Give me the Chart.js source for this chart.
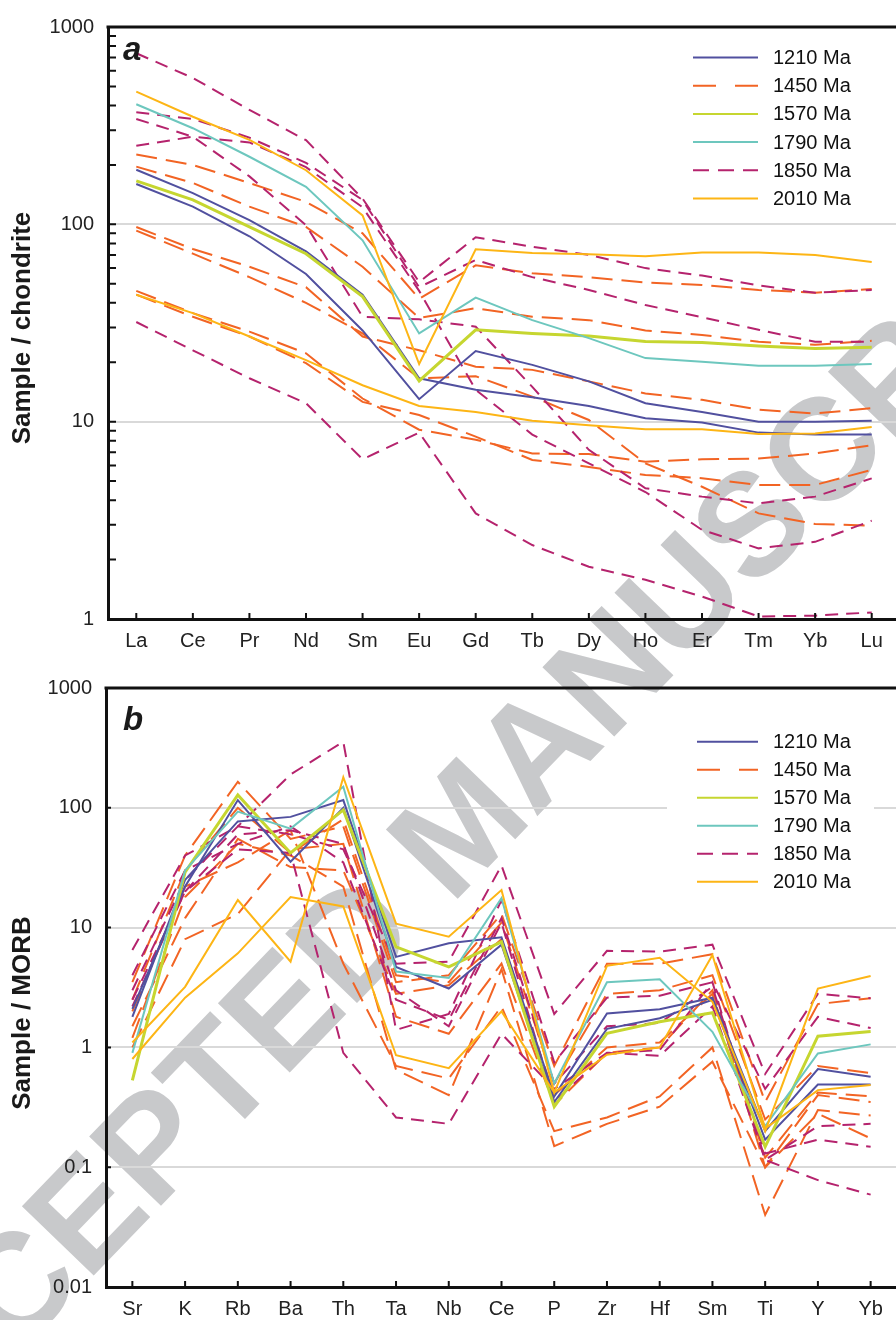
<!DOCTYPE html>
<html>
<head>
<meta charset="utf-8">
<title>REE and trace element patterns</title>
<script src="https://cdn.jsdelivr.net/npm/chart.js@4.4.1/dist/chart.umd.min.js"></script>
<style>
    html, body { margin: 0; padding: 0; background: #fff; overflow: hidden; }
    #page { position: relative; width: 896px; height: 1320px; overflow: hidden; }
    #stamp {
        position: absolute; left: 460px; top: 825px;
        transform: translate(-50%, -50%) rotate(-46deg);
        font: bold 145px "Liberation Sans", Arial, sans-serif;
        color: #c8c9cb; white-space: nowrap;
    }
    canvas { position: absolute; left: 0; }
    #reeChart { top: 0; }
    #spiderChart { top: 660px; }
</style>
</head>
<body>
<div id="page">
    <div id="stamp">ACCEPTED MANUSCRIPT</div>
    <canvas id="reeChart" width="910" height="660"></canvas>
    <canvas id="spiderChart" width="910" height="660"></canvas>
</div>
<script>
const reeElements = ['La', 'Ce', 'Pr', 'Nd', 'Sm', 'Eu', 'Gd', 'Tb', 'Dy', 'Ho', 'Er', 'Tm', 'Yb', 'Lu'];
const spiderElements = ['Sr', 'K', 'Rb', 'Ba', 'Th', 'Ta', 'Nb', 'Ce', 'P', 'Zr', 'Hf', 'Sm', 'Ti', 'Y', 'Yb'];
const chondriteTicks = ['1', '10', '100', '1000'];
const morbTicks = ['0.01', '0.1', '1', '10', '100', '1000'];
const ageGroups = ['1210 Ma', '1450 Ma', '1570 Ma', '1790 Ma', '1850 Ma', '2010 Ma'];

// chondrite-normalised REE
const ree1210a = [160, 123, 87, 56, 29, 13, 22.8, 19.4, 16, 12.4, 11.2, 10, 10, 10.1];
const ree1210b = [189, 144, 105, 73, 44, 16.6, 14.5, 13.3, 12, 10.4, 9.9, 8.8, 8.6, 8.6];
const ree1450a = [226, 200, 162, 130, 90, 42, 62, 56.5, 54, 50.7, 49.3, 46.5, 45, 47];
const ree1450b = [196, 162, 123, 97, 61, 33.5, 37.6, 34, 32.7, 29, 27.5, 25.4, 24.5, 25.7];
const ree1450c = [97, 75, 61, 48, 27, 23, 19, 18.3, 16, 13.9, 12.9, 11.5, 11, 11.7];
const ree1450d = [93, 71, 54, 40, 28, 16.6, 17, 13.4, 10.2, 6.15, 4.68, 3.43, 3.03, 2.97];
const ree1450e = [46, 35.5, 28.6, 22.2, 13.1, 9.1, 8.1, 6.9, 6.85, 6.27, 6.45, 6.5, 6.9, 7.6];
const ree1450f = [44, 34, 27, 19.8, 12.6, 10.8, 8.4, 6.4, 5.9, 5.37, 5.17, 4.78, 4.78, 5.7];
const ree1570 = [166, 133, 97, 71, 43, 16.1, 29.2, 28, 27.2, 25.5, 25.2, 24.2, 23.5, 23.8];
const ree1790 = [406, 307, 220, 155, 83, 28, 42.5, 32.7, 26.5, 21, 20.1, 19.2, 19.2, 19.6];
const ree1850a = [736, 552, 380, 267, 135, 51, 86, 77, 70, 60, 55, 49, 45, 46.5];
const ree1850b = [370, 342, 275, 205, 133, 48, 66, 54, 46.5, 39, 33.8, 29.2, 25.4, 25.4];
const ree1850c = [250, 278, 260, 195, 122, 46, 14.5, 8.6, 6.15, 4.4, 2.83, 2.28, 2.46, 3.15];
const ree1850d = [342, 278, 175, 99, 34, 33, 30.3, 15, 7.2, 4.6, 4.17, 3.86, 4.17, 5.16];
const ree1850e = [32, 23, 16.6, 12.4, 6.45, 8.8, 3.43, 2.37, 1.84, 1.58, 1.3, 1.03, 1.04, 1.08];
const ree2010a = [470, 351, 268, 188, 111, 19.6, 74.8, 71.5, 70.6, 69, 72, 72, 70, 64.5];
const ree2010b = [44, 35.5, 27, 20.5, 15.3, 12, 11.2, 10.1, 9.6, 9.15, 9.15, 8.66, 8.7, 9.4];

// MORB-normalised trace elements
const tr1210a = [2.1, 22, 116, 35.5, 100, 4.7, 3.1, 7.2, 0.35, 1.43, 1.75, 2.5, 0.17, 0.49, 0.49];
const tr1210b = [1.8, 25, 77, 84, 116, 5.7, 7.4, 8.3, 0.39, 1.92, 2.08, 2.6, 0.2, 0.66, 0.57];
const tr1450a = [3.5, 40, 165, 55, 70, 3.5, 4, 13, 0.7, 5, 5, 6, 0.35, 2.3, 2.57];
const tr1450b = [2.5, 30, 100, 42, 80, 4, 3.5, 11, 0.5, 2.8, 3, 4, 0.25, 0.7, 0.61];
const tr1450c = [1.5, 12, 55, 32, 30, 2.8, 3.3, 8, 0.4, 1.0, 1.1, 2.8, 0.12, 0.42, 0.39];
const tr1450d = [1.0, 8, 13, 45, 50, 1.8, 1.3, 5, 0.33, 0.9, 1.0, 3, 0.1, 0.4, 0.35];
const tr1450e = [2.0, 22, 35, 65, 5, 0.7, 0.55, 2.2, 0.2, 0.26, 0.39, 1.0, 0.04, 0.3, 0.27];
const tr1450f = [1.2, 18, 50, 40, 22, 0.65, 0.4, 4.5, 0.15, 0.23, 0.32, 0.76, 0.1, 0.28, 0.174];
const tr1570 = [0.53, 29, 128, 42, 96, 6.9, 4.7, 7.6, 0.32, 1.31, 1.64, 1.95, 0.148, 1.24, 1.36];
const tr1790 = [0.9, 30, 93, 67, 150, 4.3, 3.8, 17.6, 0.5, 3.5, 3.7, 1.35, 0.22, 0.89, 1.06];
const tr1850a = [6.5, 40, 70, 60, 45, 5, 5.2, 33, 1.9, 6.4, 6.3, 7.2, 0.6, 2.8, 2.57];
const tr1850b = [3, 25, 70, 190, 356, 1.4, 1.9, 17, 0.75, 2.6, 2.7, 3.5, 0.45, 1.8, 1.45];
const tr1850c = [2.2, 20, 60, 65, 50, 3, 1.5, 11, 0.35, 0.9, 0.85, 2.2, 0.115, 0.22, 0.23];
const tr1850d = [4, 30, 50, 70, 35, 2.5, 1.7, 12, 0.5, 1.5, 1.6, 3.2, 0.13, 0.17, 0.148];
const tr1850e = [2.5, 20, 45, 42, 0.9, 0.26, 0.23, 1.3, 0.45, 0.9, 0.95, 3.5, 0.115, 0.078, 0.059];
const tr2010a = [1.1, 3.2, 17, 5.2, 180, 10.8, 8.4, 20.6, 0.42, 4.8, 5.6, 2.4, 0.2, 3.1, 3.95];
const tr2010b = [0.8, 2.6, 6.1, 18, 15, 0.86, 0.67, 2.0, 0.42, 0.87, 1.0, 5.9, 0.21, 0.44, 0.485];

const groupStyle = {
    '1210 Ma': { color: '#51509f', width: 2, dash: [], key: [] },
    '1450 Ma': { color: '#f26424', width: 2, dash: [21, 9], key: [23, 19] },
    '1570 Ma': { color: '#c6d630', width: 3, dash: [], key: [] },
    '1790 Ma': { color: '#6dc7be', width: 2, dash: [], key: [] },
    '1850 Ma': { color: '#b5236d', width: 2, dash: [13, 8], key: [16, 9] },
    '2010 Ma': { color: '#fdb515', width: 2, dash: [], key: [] }
};

// solid lines first so they sit on top of the dashed ones
const reeSets = [
    ['2010 Ma', ree2010a], ['2010 Ma', ree2010b],
    ['1790 Ma', ree1790], ['1570 Ma', ree1570],
    ['1210 Ma', ree1210a], ['1210 Ma', ree1210b],
    ['1850 Ma', ree1850a], ['1850 Ma', ree1850b], ['1850 Ma', ree1850c], ['1850 Ma', ree1850d], ['1850 Ma', ree1850e],
    ['1450 Ma', ree1450a], ['1450 Ma', ree1450b], ['1450 Ma', ree1450c], ['1450 Ma', ree1450d], ['1450 Ma', ree1450e], ['1450 Ma', ree1450f]
];
const traceSets = [
    ['2010 Ma', tr2010a], ['2010 Ma', tr2010b],
    ['1790 Ma', tr1790], ['1570 Ma', tr1570],
    ['1210 Ma', tr1210a], ['1210 Ma', tr1210b],
    ['1850 Ma', tr1850a], ['1850 Ma', tr1850b], ['1850 Ma', tr1850c], ['1850 Ma', tr1850d], ['1850 Ma', tr1850e],
    ['1450 Ma', tr1450a], ['1450 Ma', tr1450b], ['1450 Ma', tr1450c], ['1450 Ma', tr1450d], ['1450 Ma', tr1450e], ['1450 Ma', tr1450f]
];

const FONT = '"Liberation Sans", Arial, Helvetica, sans-serif';

function toDatasets(sets) {
    return sets.map(function (s) {
        const st = groupStyle[s[0]];
        return {
            label: s[0],
            data: s[1],
            borderColor: st.color,
            borderWidth: st.width,
            borderDash: st.dash,
            pointRadius: 0,
            tension: 0,
            fill: false
        };
    });
}

function isLabelled(labels, value) {
    return labels.findIndex(function (l) { return Math.abs(Number(l) - value) < value * 1e-6; });
}

// decade ticks, plus 2..9 inside each decade when asked
function logTicks(labels, withMinor) {
    const out = [];
    const decades = labels.map(Number);
    decades.forEach(function (d, i) {
        out.push({ value: d });
        if (withMinor && i < decades.length - 1) {
            for (let k = 2; k < 10; k++) out.push({ value: d * k });
        }
    });
    return out;
}

const panelDecor = {
    id: 'panelDecor',
    afterDraw: function (chart, args, opts) {
        const ctx = chart.ctx;
        const area = chart.chartArea;
        const x = chart.scales.x;
        const y = chart.scales.y;
        ctx.save();

        // top frame line
        ctx.strokeStyle = '#111';
        ctx.lineWidth = 3;
        ctx.beginPath();
        ctx.moveTo(area.left - 1.5, area.top);
        ctx.lineTo(chart.width, area.top);
        ctx.stroke();

        // tick marks point into the plot
        ctx.lineWidth = 2;
        ctx.beginPath();
        x.ticks.forEach(function (t, i) {
            const px = x.getPixelForTick(i);
            ctx.moveTo(px, area.bottom);
            ctx.lineTo(px, area.bottom - 6);
        });
        y.ticks.forEach(function (t) {
            const py = y.getPixelForValue(t.value);
            ctx.moveTo(area.left, py);
            ctx.lineTo(area.left + opts.tickLen, py);
        });
        ctx.stroke();

        // key
        if (opts.keyBox) {
            ctx.fillStyle = '#fff';
            ctx.fillRect(opts.keyBox[0], opts.keyBox[1], opts.keyBox[2], opts.keyBox[3]);
        }
        ctx.font = '20px ' + FONT;
        ctx.textBaseline = 'middle';
        ctx.textAlign = 'left';
        ageGroups.forEach(function (g, i) {
            const st = groupStyle[g];
            const ly = opts.keyTop + i * opts.keyStep;
            ctx.strokeStyle = st.color;
            ctx.lineWidth = 2;
            ctx.setLineDash(st.key);
            ctx.beginPath();
            ctx.moveTo(opts.keyX, ly);
            ctx.lineTo(758, ly);
            ctx.stroke();
            ctx.setLineDash([]);
            ctx.fillStyle = '#111';
            ctx.fillText(g, 773, ly + 1);
        });

        // panel letter
        ctx.fillStyle = '#1a1a1a';
        ctx.font = 'italic bold 33px ' + FONT;
        ctx.textAlign = 'left';
        ctx.fillText(opts.letter, 123, opts.letterY);

        // axis title
        ctx.translate(23, opts.titleY);
        ctx.rotate(-Math.PI / 2);
        ctx.textAlign = 'center';
        ctx.font = 'bold 26px ' + FONT;
        ctx.fillStyle = '#1a1a1a';
        ctx.fillText(opts.title, 0, 0);
        ctx.restore();
    }
};

function makeChart(id, labels, sets, tickLabels, withMinor, yWidth, xHeight, pad, decor) {
    return new Chart(document.getElementById(id).getContext('2d'), {
        type: 'line',
        data: { labels: labels, datasets: toDatasets(sets) },
        plugins: [panelDecor],
        options: {
            responsive: false,
            animation: false,
            devicePixelRatio: 1,
            layout: { padding: pad },
            plugins: {
                legend: { display: false },
                tooltip: { enabled: false },
                panelDecor: decor
            },
            scales: {
                x: {
                    offset: true,
                    afterFit: function (s) { s.height = xHeight; },
                    grid: { color: 'rgba(0,0,0,0)', drawTicks: false },
                    border: { display: true, color: '#111', width: 3 },
                    ticks: { color: '#222', padding: 10, font: { family: FONT, size: 20 } }
                },
                y: {
                    type: 'logarithmic',
                    min: Number(tickLabels[0]),
                    max: Number(tickLabels[tickLabels.length - 1]),
                    afterFit: function (s) { s.width = yWidth; },
                    afterBuildTicks: function (s) { s.ticks = logTicks(tickLabels, withMinor); },
                    grid: {
                        drawTicks: false,
                        lineWidth: 2,
                        color: function (c) {
                            if (!c.tick) return 'rgba(0,0,0,0)';
                            const i = isLabelled(tickLabels, c.tick.value);
                            return (i > 0 && i < tickLabels.length - 1) ? '#d9d9d9' : 'rgba(0,0,0,0)';
                        }
                    },
                    border: { display: true, color: '#111', width: 3 },
                    ticks: {
                        autoSkip: false,
                        color: '#222',
                        padding: 14,
                        font: { family: FONT, size: 20 },
                        callback: function (v) {
                            const i = isLabelled(tickLabels, v);
                            return i >= 0 ? tickLabels[i] : '';
                        }
                    }
                }
            }
        }
    });
}

makeChart('reeChart', reeElements, reeSets, chondriteTicks, true, 108, 41,
    { top: 27, right: 10, bottom: 0, left: 0 },
    { letter: 'a', letterY: 51, title: 'Sample / chondrite', titleY: 328, tickLen: 8,
      keyX: 693, keyTop: 57.5, keyStep: 28.2, keyBox: null });

makeChart('spiderChart', spiderElements, traceSets, morbTicks, false, 106, 33,
    { top: 28, right: 13, bottom: 0, left: 0 },
    { letter: 'b', letterY: 61, title: 'Sample / MORB', titleY: 353, tickLen: 5,
      keyX: 697, keyTop: 81.7, keyStep: 28, keyBox: [667, 62, 207, 180] });
</script>
</body>
</html>
